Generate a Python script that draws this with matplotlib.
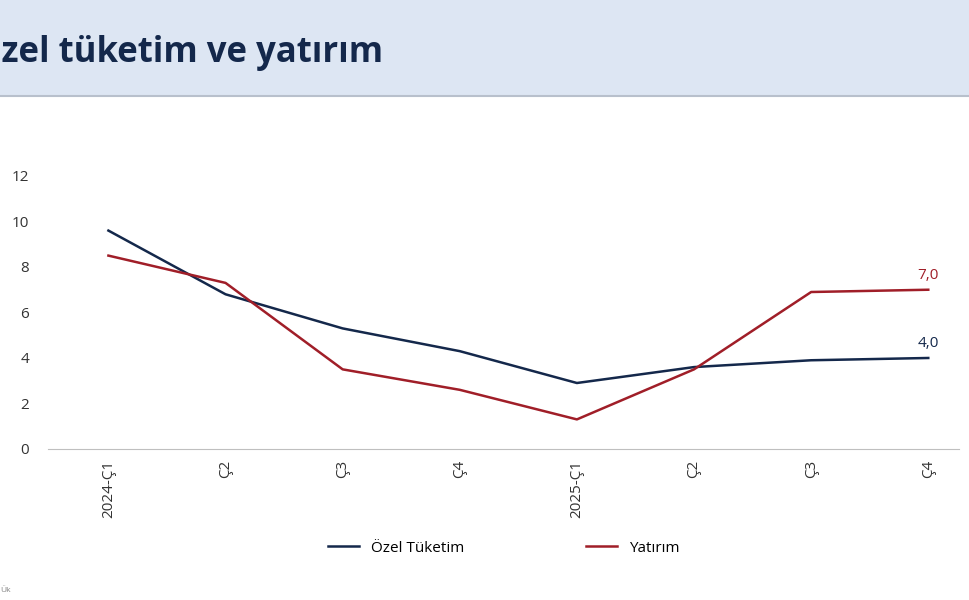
import matplotlib
matplotlib.use("Agg")
import matplotlib.pyplot as plt
from matplotlib.patches import Rectangle

categories = ["2024-Ç1", "Ç2", "Ç3", "Ç4", "2025-Ç1", "Ç2", "Ç3", "Ç4"]
ozel = [9.6, 6.8, 5.3, 4.3, 2.9, 3.6, 3.9, 4.0]
yatirim = [8.5, 7.3, 3.5, 2.6, 1.3, 3.5, 6.9, 7.0]
yticks = [0, 2, 4, 6, 8, 10, 12]

navy = "#14284b"
red = "#a01e28"
plt.rcParams['font.family'] = ['Open Sans', 'DejaVu Sans']

fig = plt.figure(figsize=(9.69, 6), dpi=100)
fig.patches.append(Rectangle((0, 1 - 95/600), 1, 95/600, transform=fig.transFigure,
                             facecolor="#dde6f3", edgecolor="none", zorder=0))
fig.lines.append(plt.Line2D([0, 1], [1 - 96/600]*2, transform=fig.transFigure, color="#b8c0cc", lw=1.5))
fig.text(-0.027, 1 - 50/600, "Özel tüketim ve yatırım", fontsize=25, fontweight="bold",
         color=navy, va="center", ha="left")
fig.text(0.0, 1 - 590/600, "Ük", fontsize=6, color="#888888", va="center")

ax = fig.add_axes([0.05, 0.2517, 0.94, 0.455])
x = range(len(categories))
ax.plot(x, ozel, color=navy, lw=1.8, label="Özel Tüketim")
ax.plot(x, yatirim, color=red, lw=1.8, label="Yatırım")
ax.set_xlim(-0.512, 7.265)
ax.set_ylim(0, 12)
ax.set_yticks(yticks)
ax.set_xticks(list(x))
ax.set_xticklabels(categories, rotation=90, fontsize=11, color="#333333")
ax.tick_params(axis="y", length=0, labelsize=11, labelcolor="#333333", pad=14)
ax.tick_params(axis="x", length=0, pad=8)
for s in ["top", "right", "left"]:
    ax.spines[s].set_visible(False)
ax.spines["bottom"].set_color("#bfbfbf")
ax.annotate(f"{yatirim[-1]:.1f}".replace(".", ","), (7, yatirim[-1]), xytext=(0, 8),
            textcoords="offset points", ha="center", color=red, fontsize=11)
ax.annotate(f"{ozel[-1]:.1f}".replace(".", ","), (7, ozel[-1]), xytext=(0, 8),
            textcoords="offset points", ha="center", color=navy, fontsize=11)
fig.legend(loc="center", bbox_to_anchor=(0.52, 1 - 548/600), ncol=2, frameon=False,
           fontsize=11, columnspacing=8, handlelength=2)
fig.savefig("out.png", dpi=100)
